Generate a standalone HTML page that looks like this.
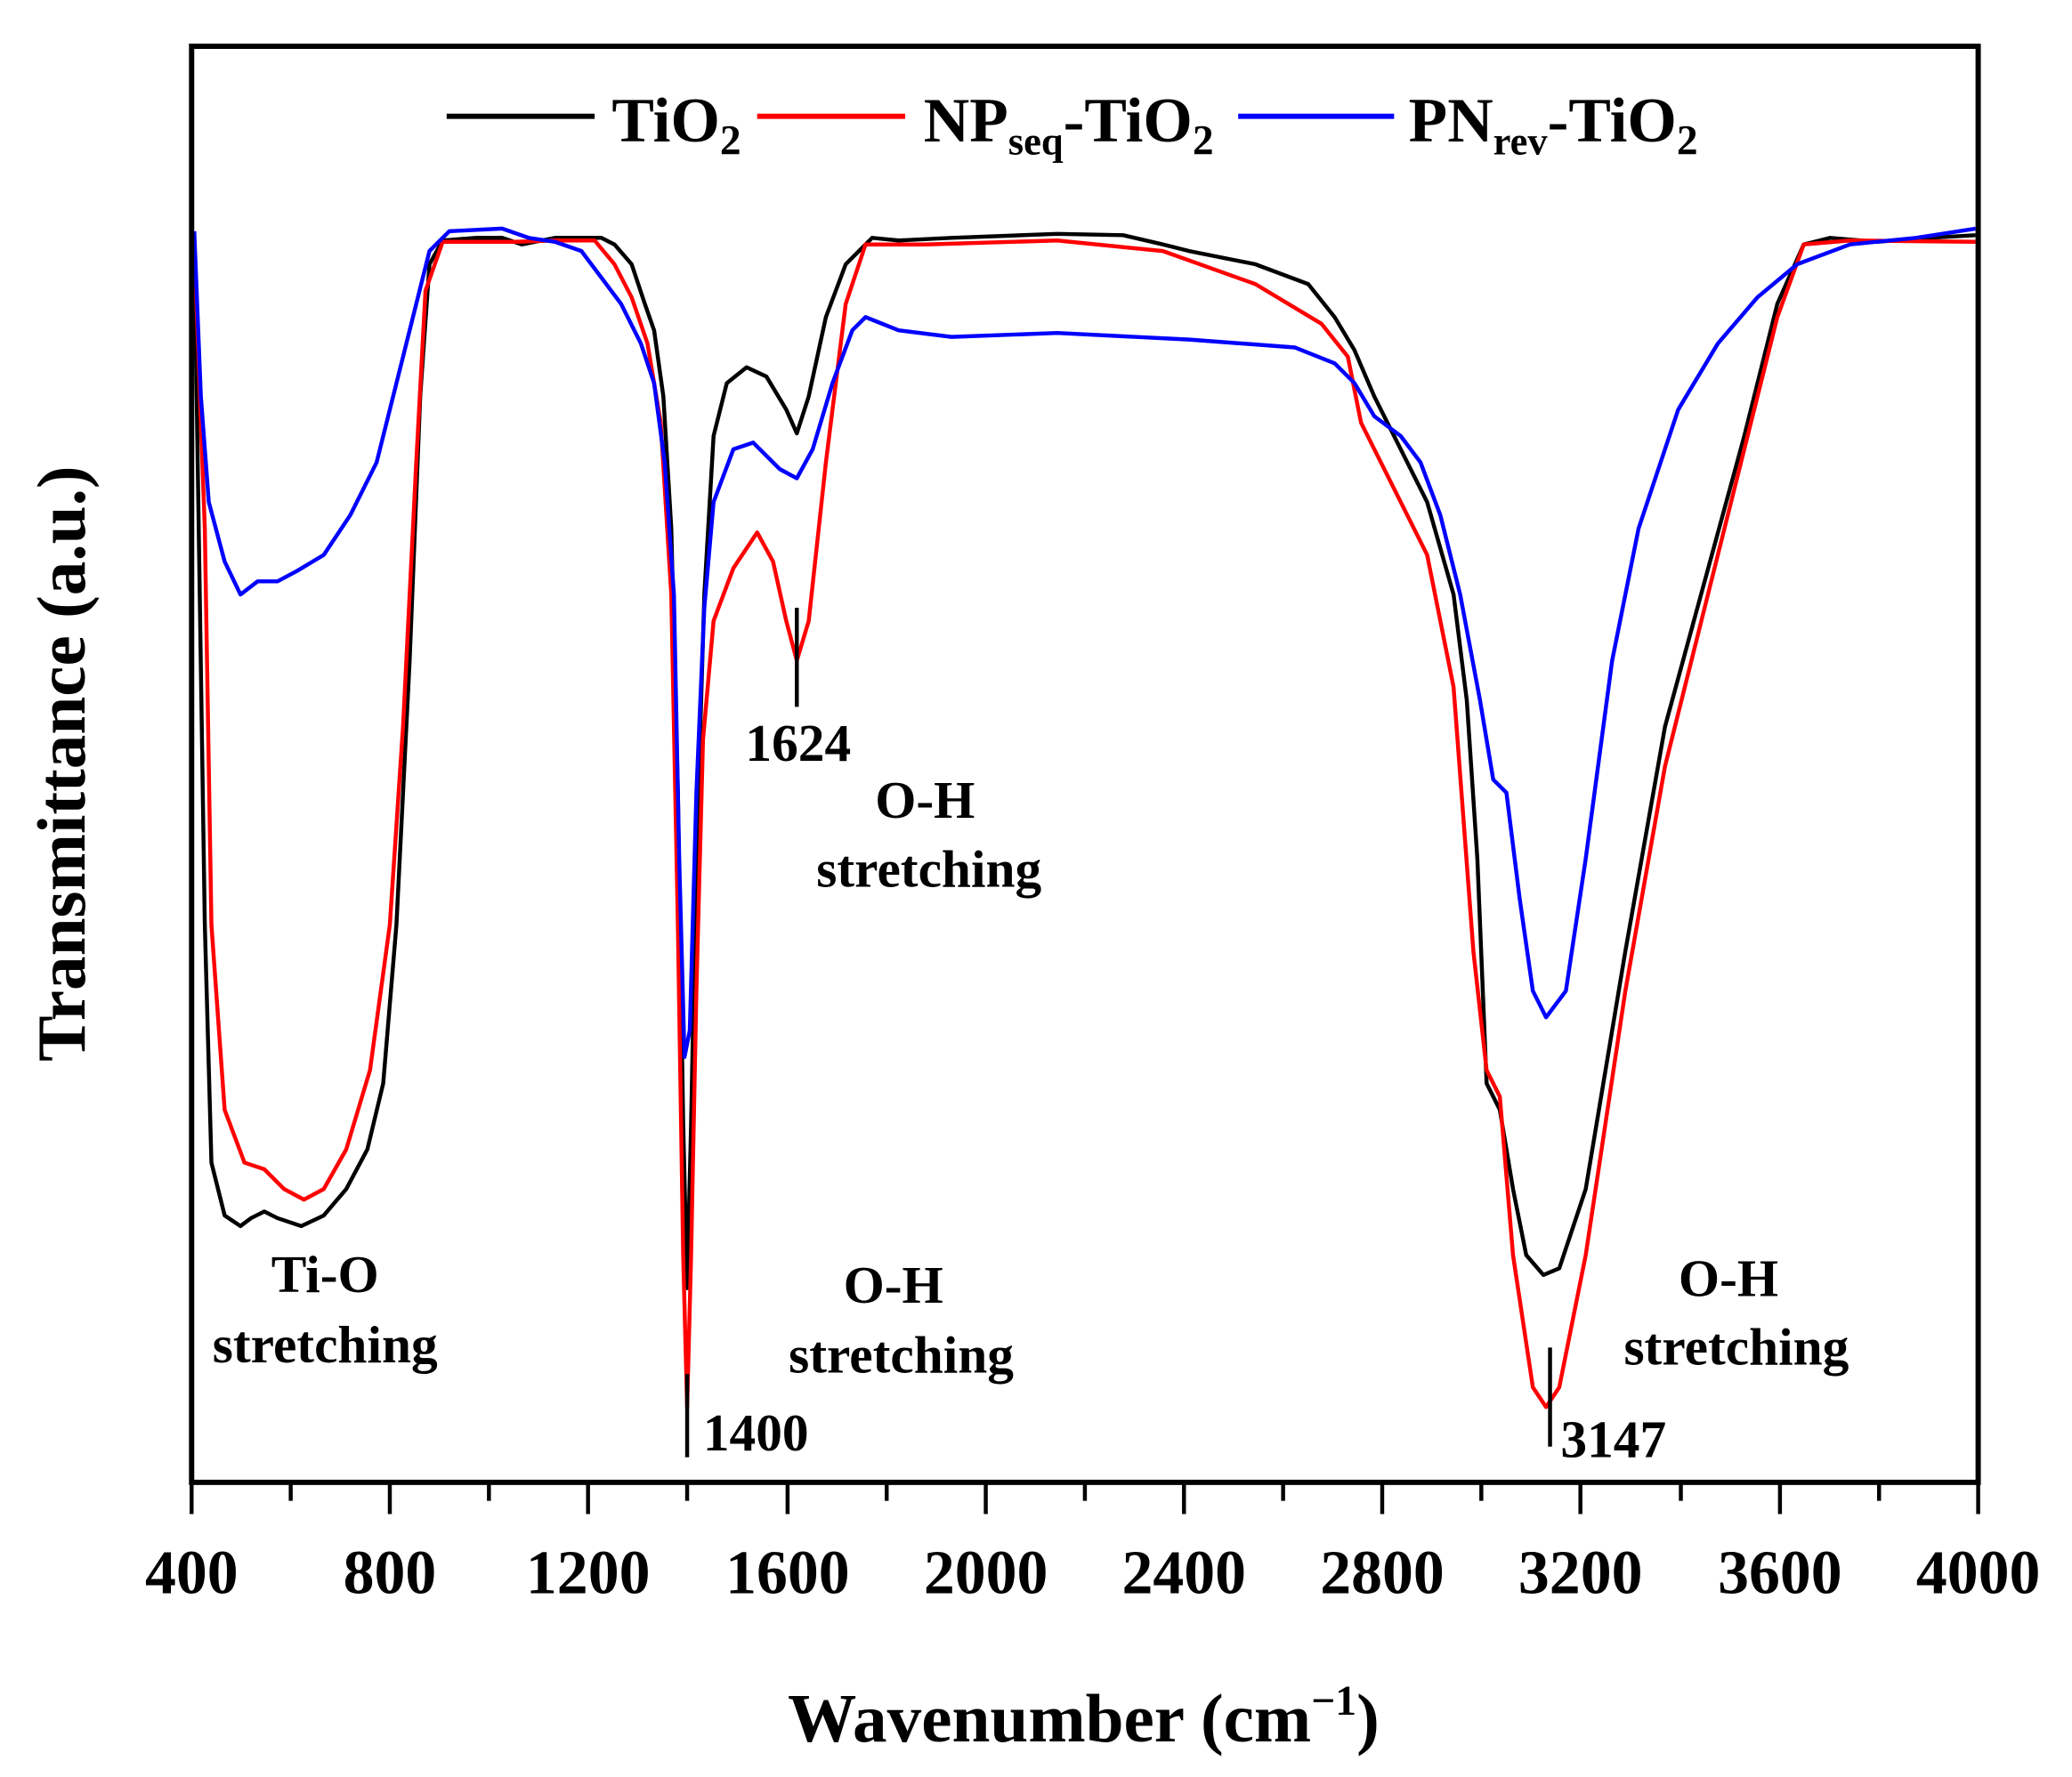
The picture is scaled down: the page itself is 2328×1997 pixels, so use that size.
<!DOCTYPE html>
<html><head><meta charset="utf-8"><style>html,body{margin:0;padding:0;background:#fff}svg{display:block}</style></head>
<body>
<svg width="2328" height="1997" viewBox="0 0 1568 1345" xmlns="http://www.w3.org/2000/svg" font-family="'Liberation Serif', serif" font-weight="bold">
<rect x="0" y="0" width="1568" height="1345" fill="#fff"/>
<g fill="none" stroke-width="3" stroke-linejoin="round">
<polyline stroke="#000" points="147,180 155,700 160,880 170,920 182,928 190,922 200,917 210,922 228,928 245,920 262,900 278,870 290,820 300,700 310,500 318,300 325,200 335,182 360,180 380,180 395,185 420,180 440,180 455,180 465,185 478,200 488,230 495,250 502,300 508,400 513,600 517,850 520,975 523,850 527,650 533,450 540,330 550,290 565,278 580,285 595,310 603,328 612,300 625,240 640,200 660,180 680,182 720,180 800,177 850,178 880,185 900,190 950,200 990,215 1010,240 1025,265 1040,300 1060,340 1080,380 1100,450 1110,530 1118,650 1125,820 1135,840 1145,900 1155,950 1168,965 1180,960 1200,900 1230,720 1260,550 1290,440 1320,330 1345,230 1365,185 1385,180 1420,183 1460,180 1495,178"/>
<polyline stroke="#f00" points="147,185 155,400 160,700 170,840 185,880 200,885 215,900 230,908 245,900 262,870 280,810 295,700 305,550 315,350 322,220 335,183 390,183 420,182 450,182 465,200 478,225 490,260 500,320 508,450 513,700 517,950 520,1065 523,950 527,750 532,560 540,470 555,430 573,403 585,425 595,470 603,500 612,470 625,350 640,230 655,185 700,185 800,182 880,190 950,215 1000,245 1020,270 1030,320 1050,360 1080,420 1100,520 1115,720 1125,810 1135,830 1145,950 1160,1050 1170,1065 1180,1050 1200,950 1230,750 1260,580 1290,460 1320,340 1345,240 1365,185 1400,182 1495,183"/>
<polyline stroke="#00f" points="147,175 152,300 158,380 170,425 182,450 195,440 210,440 225,432 245,420 265,390 285,350 300,290 315,230 325,190 340,175 380,173 400,180 420,183 440,190 455,210 470,230 485,260 495,290 503,350 510,450 514,650 518,800 522,780 527,600 533,460 540,380 555,340 570,335 590,355 603,362 615,340 630,290 645,250 655,240 680,250 720,255 800,252 900,257 980,263 1010,275 1025,290 1040,315 1060,330 1075,350 1090,390 1105,450 1120,530 1130,590 1140,600 1150,680 1160,750 1170,770 1185,750 1200,650 1220,500 1240,400 1270,310 1300,260 1330,225 1360,200 1400,185 1450,180 1495,173"/>
</g>
<rect x="145" y="35" width="1352" height="1087" fill="none" stroke="#000" stroke-width="4"/>
<g stroke="#000" stroke-width="3">
<line x1="145" y1="1122" x2="145" y2="1146"/><line x1="295" y1="1122" x2="295" y2="1146"/><line x1="445" y1="1122" x2="445" y2="1146"/><line x1="596" y1="1122" x2="596" y2="1146"/><line x1="746" y1="1122" x2="746" y2="1146"/><line x1="896" y1="1122" x2="896" y2="1146"/><line x1="1046" y1="1122" x2="1046" y2="1146"/><line x1="1196" y1="1122" x2="1196" y2="1146"/><line x1="1347" y1="1122" x2="1347" y2="1146"/><line x1="1497" y1="1122" x2="1497" y2="1146"/>
<line x1="220" y1="1122" x2="220" y2="1136"/><line x1="370" y1="1122" x2="370" y2="1136"/><line x1="520" y1="1122" x2="520" y2="1136"/><line x1="671" y1="1122" x2="671" y2="1136"/><line x1="821" y1="1122" x2="821" y2="1136"/><line x1="971" y1="1122" x2="971" y2="1136"/><line x1="1121" y1="1122" x2="1121" y2="1136"/><line x1="1272" y1="1122" x2="1272" y2="1136"/><line x1="1422" y1="1122" x2="1422" y2="1136"/>
<line x1="603" y1="460" x2="603" y2="535"/><line x1="520" y1="1040" x2="520" y2="1103"/><line x1="1173" y1="1020" x2="1173" y2="1095"/>
</g>
<g font-size="47" text-anchor="middle">
<text x="145" y="1206">400</text><text x="295" y="1206">800</text><text x="445" y="1206">1200</text><text x="596" y="1206">1600</text><text x="746" y="1206">2000</text><text x="896" y="1206">2400</text><text x="1046" y="1206">2800</text><text x="1196" y="1206">3200</text><text x="1347" y="1206">3600</text><text x="1497" y="1206">4000</text>
</g>
<text x="820" y="1318" font-size="52" text-anchor="middle">Wavenumber (cm<tspan dy="-20" font-size="32">−1</tspan><tspan dy="20">)</tspan></text>
<text transform="translate(64,578) rotate(-90)" font-size="52" text-anchor="middle">Transmittance (a.u.)</text>
<g font-size="40">
<text x="604" y="576" text-anchor="middle">1624</text>
<text x="532" y="1098">1400</text>
<text x="1181" y="1103">3147</text>
<text x="700" y="619" text-anchor="middle">O-H</text><text x="703" y="671" text-anchor="middle">stretching</text>
<text x="246" y="978" text-anchor="middle">Ti-O</text><text x="246" y="1031" text-anchor="middle">stretching</text>
<text x="676" y="986" text-anchor="middle">O-H</text><text x="682" y="1039" text-anchor="middle">stretching</text>
<text x="1308" y="981" text-anchor="middle">O-H</text><text x="1314" y="1033" text-anchor="middle">stretching</text>
</g>
<g stroke-width="4">
<line x1="338" y1="88" x2="450" y2="88" stroke="#000"/>
<line x1="573" y1="88" x2="685" y2="88" stroke="#f00"/>
<line x1="937" y1="88" x2="1055" y2="88" stroke="#00f"/>
</g>
<g font-size="48">
<text x="463" y="107">TiO<tspan font-size="32" dy="10">2</tspan></text>
<text x="699" y="107">NP<tspan font-size="30" dy="10">seq</tspan><tspan dy="-10">-TiO</tspan><tspan font-size="32" dy="10">2</tspan></text>
<text x="1066" y="107">PN<tspan font-size="30" dy="10">rev</tspan><tspan dy="-10">-TiO</tspan><tspan font-size="32" dy="10">2</tspan></text>
</g>
</svg>
</body></html>
